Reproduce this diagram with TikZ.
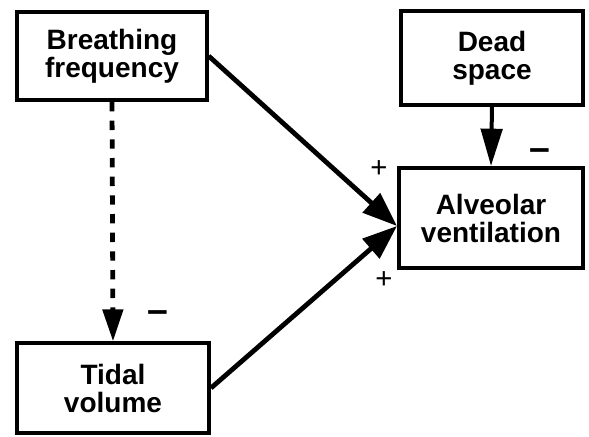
\documentclass[tikz,border=0pt]{standalone}
\usepackage{fontspec}
\setmainfont{Liberation Sans}
\usetikzlibrary{arrows.meta,positioning}

\begin{document}
\begin{tikzpicture}[x=0.75pt,y=-0.75pt,
  varbox/.style={draw,line width=3pt,align=center,inner sep=0pt,
    font=\fontsize{21}{21}\selectfont\bfseries},
  plus/.style={font=\fontsize{22}{22}\selectfont},
  minus/.style={font=\fontsize{28}{28}\selectfont\bfseries},
  link/.style={line width=3.6pt,-{Triangle[length=26pt,width=19pt]}}]
\useasboundingbox (0,0) rectangle (589,436);
\node[varbox,minimum width=142pt,minimum height=66pt] (bf) at (112,56) {Breathing\\frequency};
\node[varbox,minimum width=137pt,minimum height=70pt] (ds) at (492,58) {Dead\\space};
\node[varbox,minimum width=138pt,minimum height=75pt] (av) at (491,218) {Alveolar\\ventilation};
\node[varbox,minimum width=144pt,minimum height=67pt] (tv) at (113,388) {Tidal\\volume};
\coordinate (avin) at ([yshift=-6pt]av.west);
\draw[link] (bf.east) -- (avin);
\draw[link] (tv.east) -- (avin);
\draw[line width=3pt,-{Triangle[length=28pt,width=16pt]}] (ds.south) -- (av.north);
\draw[line width=3.6pt,dash pattern=on 7pt off 7pt,-{Triangle[length=24pt,width=15pt]}] (bf.south) -- (tv.north);
\node[plus] (p1) at (379,169) {+};
\node[plus] (p2) at (384,280) {+};
\node[minus] (m1) at (540,155) {--};
\node[minus] (m2) at (158,317) {--};
\end{tikzpicture}
\end{document}
